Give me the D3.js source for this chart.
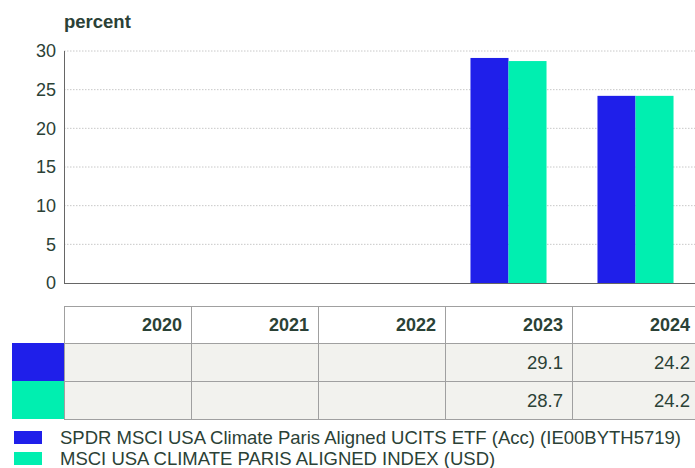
<!DOCTYPE html>
<html>
<head>
<meta charset="utf-8">
<script src="https://cdn.jsdelivr.net/npm/d3@7"></script>
<style>
  body { margin: 0; background: #fff; }
  svg { font-family: "Liberation Sans", Arial, sans-serif; }
</style>
</head>
<body>
<svg id="chart"></svg>
<script>
// data
const years = ["2020", "2021", "2022", "2023", "2024"];
const fundValues = [null, null, null, 29.1, 24.2];
const indexValues = [null, null, null, 28.7, 24.2];
const seriesNames = [
    "SPDR MSCI USA Climate Paris Aligned UCITS ETF (Acc) (IE00BYTH5719)",
    "MSCI USA CLIMATE PARIS ALIGNED INDEX (USD)"
];
const seriesColors = ["#1f1fea", "#00efb0"];
const yTicks = [0, 5, 10, 15, 20, 25, 30];

const width = 695, height = 468;
const margin = { top: 51, left: 64, bottom: 185 };
const plotRight = 699;
const textColor = "#2b4136";

const svg = d3.select("#chart").attr("width", width).attr("height", height);

const x = d3.scaleBand().domain(years).range([margin.left, plotRight]);
const xInner = d3.scaleBand().domain([0, 1]).range([0, x.bandwidth()]).paddingOuter(0.67).paddingInner(0);
const y = d3.scaleLinear().domain([0, 30]).range([height - margin.bottom, margin.top]);

// title
svg.append("text")
    .attr("x", margin.left)
    .attr("y", 28)
    .attr("fill", textColor)
    .style("font-size", "18.5px")
    .style("font-weight", "bold")
    .text("percent");

// grid
svg.append("g")
    .selectAll("line")
    .data(yTicks.filter(d => d > 0))
    .join("line")
    .attr("x1", margin.left)
    .attr("x2", width)
    .attr("y1", d => y(d))
    .attr("y2", d => y(d))
    .attr("stroke", "#c8c8c8")
    .attr("stroke-dasharray", "1.5,1.5");

// y axis labels
svg.append("g")
    .selectAll("text")
    .data(yTicks)
    .join("text")
    .attr("x", 56)
    .attr("y", d => y(d))
    .attr("dy", "0.36em")
    .attr("text-anchor", "end")
    .attr("fill", textColor)
    .style("font-size", "18px")
    .text(d => d);

// bars
const series = [fundValues, indexValues];
series.forEach((vals, si) => {
    svg.append("g")
        .selectAll("rect")
        .data(years.map((yr, i) => ({ yr, v: vals[i] })).filter(d => d.v != null))
        .join("rect")
        .attr("x", d => x(d.yr) + xInner(si))
        .attr("width", xInner.bandwidth())
        .attr("y", d => y(d.v))
        .attr("height", d => y(0) - y(d.v))
        .attr("fill", seriesColors[si]);
});

// axes lines
svg.append("line")
    .attr("x1", margin.left + 0.5).attr("x2", margin.left + 0.5)
    .attr("y1", y(30)).attr("y2", y(0))
    .attr("stroke", "#666");
svg.append("line")
    .attr("x1", margin.left).attr("x2", width)
    .attr("y1", y(0) + 0.5).attr("y2", y(0) + 0.5)
    .attr("stroke", "#666");

// table
const rowTop = [306, 343, 381];
const rowH = [37, 38, 38];
const table = svg.append("g");

// value rows background
table.append("rect")
    .attr("x", margin.left).attr("y", rowTop[1])
    .attr("width", width - margin.left).attr("height", rowH[1] + rowH[2])
    .attr("fill", "#f2f2ee");

// row swatches
seriesColors.forEach((c, i) => {
    table.append("rect")
        .attr("x", 12).attr("y", rowTop[i + 1])
        .attr("width", margin.left - 12).attr("height", rowH[i + 1])
        .attr("fill", c);
});

// horizontal lines
[rowTop[0], rowTop[1], rowTop[2], rowTop[2] + rowH[2]].forEach(yy => {
    table.append("line")
        .attr("x1", margin.left).attr("x2", width)
        .attr("y1", yy + 0.5).attr("y2", yy + 0.5)
        .attr("stroke", "#a0a0a0");
});
// vertical lines
years.forEach(yr => {
    table.append("line")
        .attr("x1", x(yr) + 0.5).attr("x2", x(yr) + 0.5)
        .attr("y1", rowTop[0]).attr("y2", rowTop[2] + rowH[2])
        .attr("stroke", "#a0a0a0");
});

// header
table.selectAll(".hdr")
    .data(years)
    .join("text")
    .attr("class", "hdr")
    .attr("x", d => x(d) + x.bandwidth() - 9)
    .attr("y", rowTop[0] + rowH[0] / 2)
    .attr("dy", "0.36em")
    .attr("text-anchor", "end")
    .attr("fill", textColor)
    .style("font-size", "18px")
    .style("font-weight", "bold")
    .text(d => d);

// values
series.forEach((vals, si) => {
    table.append("g")
        .selectAll("text")
        .data(years.map((yr, i) => ({ yr, v: vals[i] })).filter(d => d.v != null))
        .join("text")
        .attr("x", d => x(d.yr) + x.bandwidth() - 9)
        .attr("y", rowTop[si + 1] + rowH[si + 1] / 2)
        .attr("dy", "0.36em")
        .attr("text-anchor", "end")
        .attr("fill", textColor)
        .style("font-size", "18.5px")
        .text(d => d3.format(".1f")(d.v));
});

// legend
const legend = svg.append("g");
seriesNames.forEach((name, i) => {
    const ly = 431 + i * 21;
    legend.append("rect")
        .attr("x", 14).attr("y", ly)
        .attr("width", 28).attr("height", 13)
        .attr("fill", seriesColors[i]);
    legend.append("text")
        .attr("x", 60).attr("y", ly + 6.5)
        .attr("dy", "0.36em")
        .attr("fill", textColor)
        .style("font-size", "18.5px")
        .text(name);
});
</script>
</body>
</html>
